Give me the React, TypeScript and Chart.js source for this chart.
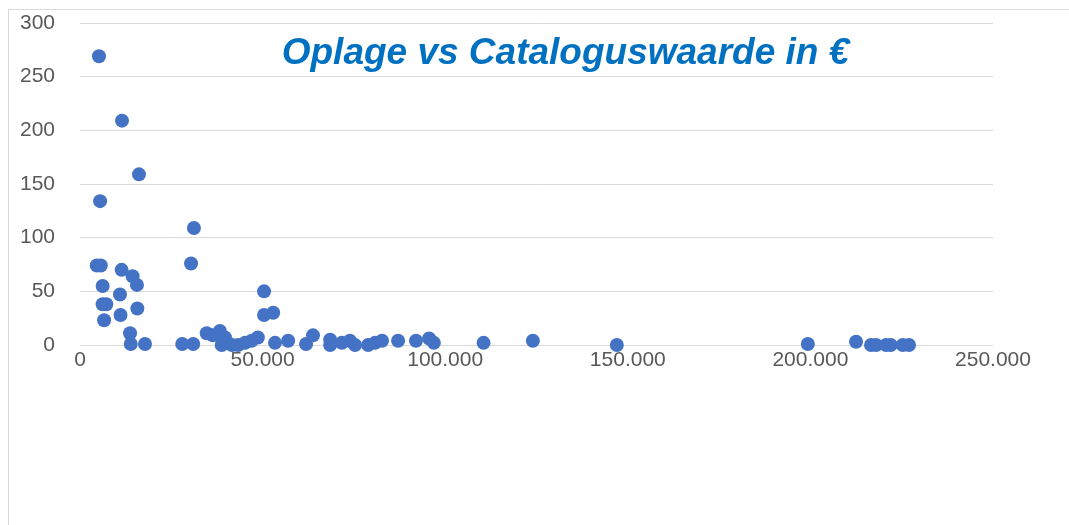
import React, { useEffect, useRef } from 'react';
import { Chart, registerables } from 'chart.js';

Chart.register(...registerables);

const chartTitle = 'Oplage vs Cataloguswaarde in €';

// X values (Cataloguswaarde)
const cataloguswaarde = [
  5200, 11500, 16150, 5500, 31200, 30400, 4600, 5700, 11400, 14400,
  15600, 6200, 10950, 6200, 7200, 15700, 11100, 6600, 13700, 13900,
  17800, 28000, 31000, 50400, 50400, 52900, 34700, 36400, 38300, 39700,
  38800, 40500, 41600, 43300, 45200, 47000, 48700, 53400, 57000, 61900,
  63800, 68500, 68500, 71700, 73900, 75300, 78900, 80800, 82700, 87100,
  92000, 95600, 96900, 110500, 124000, 147000, 199300, 212500, 216600, 218000,
  220700, 222000, 225300, 227000,
];

// Y values (Oplage)
const oplage = [
  269, 209, 159, 134, 109, 76, 74, 74, 70, 64,
  56, 55, 47, 38, 38, 34, 28, 23, 11, 1,
  1, 1, 1, 50, 28, 30, 11, 9, 13, 7,
  0, 2, 0, 0, 2, 4, 7, 2, 4, 1,
  9, 5, 0, 2, 4, 0, 0, 2, 4, 4,
  4, 6, 2, 2, 4, 0, 1, 3, 0, 0,
  0, 0, 0, 0,
];

const xMax = 250000;
const xStep = 50000;
const yMax = 300;
const yStep = 50;

const fmtThousands = (v: number) =>
  String(Math.round(v)).replace(/\B(?=(\d{3})+(?!\d))/g, '.');

const titlePlugin = {
  id: 'overlayTitle',
  afterDraw(chart: any) {
    const ctx = chart.ctx;
    ctx.save();
    ctx.font = 'italic bold 37px "Liberation Sans", Arial, sans-serif';
    ctx.fillStyle = '#0070C0';
    ctx.textAlign = 'center';
    ctx.textBaseline = 'alphabetic';
    ctx.fillText(chartTitle, 556.5, 54);
    ctx.restore();
  },
};

export default function App() {
  const ref = useRef<HTMLCanvasElement | null>(null);

  useEffect(() => {
    if (!ref.current) return;
    const points = cataloguswaarde.map((x, i) => ({ x, y: oplage[i] }));
    const chart = new Chart(ref.current, {
      type: 'scatter',
      data: {
        datasets: [
          {
            label: 'Oplage',
            data: points,
            backgroundColor: '#4472C4',
            borderColor: '#4472C4',
            borderWidth: 0,
            pointRadius: 7,
            pointHoverRadius: 7,
            clip: false,
          } as any,
        ],
      },
      options: {
        animation: false,
        responsive: true,
        maintainAspectRatio: false,
        events: [],
        layout: { padding: { left: 0, top: 13, right: 115, bottom: 0 } },
        plugins: {
          legend: { display: false },
          tooltip: { enabled: false },
          title: { display: false },
        },
        scales: {
          x: {
            type: 'linear',
            min: 0,
            max: xMax,
            grid: { display: false, drawTicks: false },
            border: { display: false },
            ticks: {
              stepSize: xStep,
              padding: 3,
              maxRotation: 0,
              color: '#595959',
              font: { family: '"Liberation Sans", Arial, sans-serif', size: 21 },
              callback: (v: any) => fmtThousands(Number(v)),
            },
            afterFit: (s: any) => {
              s.height = 180;
            },
          },
          y: {
            type: 'linear',
            min: 0,
            max: yMax,
            grid: { color: '#d9d9d9', lineWidth: 1, drawTicks: false },
            border: { display: false },
            ticks: {
              stepSize: yStep,
              padding: 25,
              color: '#595959',
              font: { family: '"Liberation Sans", Arial, sans-serif', size: 21 },
            },
            afterFit: (s: any) => {
              s.width = 71;
              s.paddingTop = 0;
              s.paddingBottom = 0;
            },
          },
        },
      },
      plugins: [titlePlugin],
    });
    return () => chart.destroy();
  }, []);

  return (
    <div
      style={{
        position: 'fixed',
        left: 8,
        top: 9,
        width: 1100,
        height: 516,
        boxSizing: 'border-box',
        borderLeft: '1px solid #d9d9d9',
        borderTop: '1px solid #d9d9d9',
        background: '#fff',
      }}
    >
      <canvas ref={ref} />
    </div>
  );
}
